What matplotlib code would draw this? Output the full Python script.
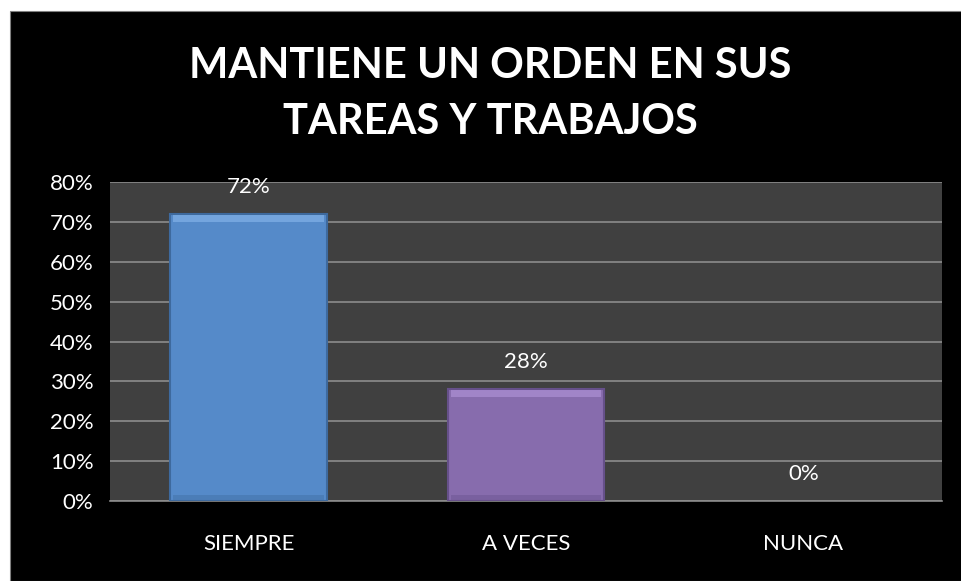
import matplotlib.pyplot as plt
from matplotlib.patches import Rectangle

# data
categories = ['SIEMPRE', 'A VECES', 'NUNCA']
values = [0.72, 0.28, 0.0]
labels = ['72%', '28%', '0%']
yticks = [0, 0.1, 0.2, 0.3, 0.4, 0.5, 0.6, 0.7, 0.8]
ytick_labels = ['0%', '10%', '20%', '30%', '40%', '50%', '60%', '70%', '80%']
bar_colors = ['#558AC9', '#876CAD', '#808080']
edge_colors = ['#3E6A9E', '#66508A', '#404040']
top_colors = ['#8EBDF0', '#B79BE0', '#A0A0A0']

plt.rcParams['font.family'] = ['Lato', 'DejaVu Sans']

W, H = 962, 581
fig = plt.figure(figsize=(W / 100, H / 100), dpi=100)
fig.patch.set_facecolor('white')
# black chart area with small white margin at left/top
fig.patches.append(Rectangle((10 / W, 0), 1 - 10 / W, 1 - 11 / H,
                             transform=fig.transFigure, facecolor='black',
                             edgecolor='#808080', linewidth=0.8, zorder=-10))

ax = fig.add_axes([110 / W, 1 - 501 / H, (942 - 110) / W, (501 - 182) / H])
ax.set_facecolor('#404040')
ax.set_ylim(0, 0.8)
ax.set_xlim(-0.5, 2.5)
ax.set_yticks(yticks)
ax.set_yticklabels(ytick_labels)
ax.yaxis.grid(True, color='#8C8C8C', linewidth=1.2)
ax.set_axisbelow(True)
for s in ['left', 'right', 'top']:
    ax.spines[s].set_visible(False)
ax.spines['bottom'].set_color('#8C8C8C')
ax.spines['bottom'].set_linewidth(1.2)
ax.tick_params(axis='both', length=0, colors='white', labelsize=16)
ax.tick_params(axis='y', pad=12)
ax.tick_params(axis='x', pad=24)

x = range(len(categories))
ax.set_xticks(list(x))
ax.set_xticklabels(categories)

bw = 0.565
for i, v in enumerate(values):
    if v > 0:
        ax.bar(i, v, width=bw, color=bar_colors[i], edgecolor=edge_colors[i],
               linewidth=1.5, zorder=3)
        # bevel: lighter band along the top, darker band at the bottom
        ax.bar(i, 0.018, bottom=v - 0.02, width=bw * 0.96, color=top_colors[i],
               linewidth=0, zorder=4, alpha=0.55)
        ax.bar(i, 0.012, bottom=0.002, width=bw * 0.96, color=edge_colors[i],
               linewidth=0, zorder=4, alpha=0.4)

for i, (v, t) in enumerate(zip(values, labels)):
    ax.annotate(t, (i, v), xytext=(0, 27), textcoords='offset pixels',
                ha='center', va='center', color='white', fontsize=16)

fig.text(490 / W, 1 - 94 / H, 'MANTIENE UN ORDEN EN SUS\nTAREAS Y TRABAJOS',
         ha='center', va='center', color='white', fontsize=30, fontweight='bold',
         linespacing=1.6)

fig.savefig('out.png', dpi=100, facecolor=fig.get_facecolor())
